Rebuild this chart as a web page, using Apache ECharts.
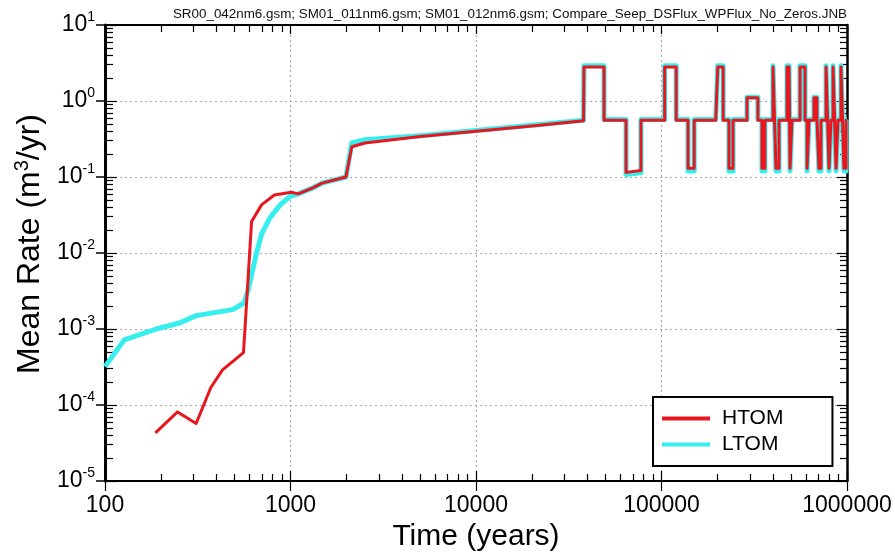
<!DOCTYPE html>
<html>
<head>
<meta charset="utf-8">
<script src="https://cdn.jsdelivr.net/npm/echarts@6/dist/echarts.min.js"></script>
<style>
  html, body { margin: 0; padding: 0; background: #ffffff; }
  #chart { width: 895px; height: 552px; }
</style>
</head>
<body>
<div id="chart"></div>
<script>
// ---- text ----
const headerText = 'SR00_042nm6.gsm; SM01_011nm6.gsm; SM01_012nm6.gsm; Compare_Seep_DSFlux_WPFlux_No_Zeros.JNB';
const xTitle = 'Time (years)';
const seriesNames = ['HTOM', 'LTOM'];

// ---- axis ticks ----
const xTicks = [100, 1000, 10000, 100000, 1000000];
const yTicks = [1e-5, 1e-4, 1e-3, 1e-2, 1e-1, 1, 10];

// ---- HTOM: mean rate (m3/yr) versus time (years) ----
const htomYears = [
  187, 246, 310, 372, 430, 558, 617, 698, 818, 1010, 1100, 1320, 1480, 1990,
  2140, 2520, 5000, 10000, 20000, 38000,
  38200, 49000, 49000, 64400, 64400, 77500, 77500,
  104000, 104000, 120000, 120000, 139000, 139000, 150000, 150000,
  196000, 201000, 215000, 215000, 231000, 231000, 243000, 243000,
  289000, 289000, 331000, 331000, 348000, 348000, 361000, 361000,
  399000, 399000, 409000, 414000, 430000, 430000,
  475000, 475000, 487000, 493000, 505000, 505000,
  558000, 558000, 594000, 594000, 609000, 609000, 624000, 624000,
  664000, 664000, 689000, 689000, 706000, 706000, 724000, 724000,
  771000, 771000, 790000, 800000, 820000, 820000,
  841000, 841000, 862000, 873000, 894000, 894000,
  928000, 928000, 951000, 963000, 988000, 988000, 1000000
];
const htomRate = [
  4.3e-5, 8.1e-5, 5.7e-5, 1.7e-4, 2.9e-4, 4.9e-4, 0.026, 0.043, 0.058, 0.063, 0.060, 0.072, 0.083, 0.10,
  0.25, 0.28, 0.34, 0.40, 0.47, 0.55,
  2.8, 2.8, 0.56, 0.56, 0.115, 0.122, 0.56,
  0.56, 2.8, 2.8, 0.56, 0.56, 0.13, 0.13, 0.56,
  0.56, 2.8, 2.8, 0.56, 0.56, 0.13, 0.13, 0.56,
  0.56, 1.1, 1.1, 0.56, 0.56, 0.13, 0.13, 0.56,
  0.56, 2.8, 2.8, 0.13, 0.13, 0.56,
  0.56, 2.8, 2.8, 0.13, 0.13, 0.56,
  0.56, 2.8, 2.8, 0.56, 0.56, 0.13, 0.13, 0.56,
  0.56, 1.1, 1.1, 0.56, 0.56, 0.13, 0.13, 0.56,
  0.56, 2.8, 2.8, 0.13, 0.13, 0.56,
  0.56, 2.8, 2.8, 0.13, 0.13, 0.56,
  0.56, 2.8, 2.8, 0.13, 0.13, 0.56, 0.56
];

// ---- LTOM: mean rate (m3/yr) versus time (years) ----
const ltomYears = [
  100, 127, 189, 252, 310, 487, 562, 590, 656, 700, 774, 880, 990, 1100, 1320, 1480, 1990,
  2140, 2520, 5000, 10000, 20000, 38000,
  38200, 49000, 49000, 64400, 64400, 77500, 77500,
  104000, 104000, 120000, 120000, 139000, 139000, 150000, 150000,
  196000, 201000, 215000, 215000, 231000, 231000, 243000, 243000,
  289000, 289000, 331000, 331000, 348000, 348000, 361000, 361000,
  399000, 399000, 409000, 414000, 430000, 430000,
  475000, 475000, 487000, 493000, 505000, 505000,
  558000, 558000, 594000, 594000, 609000, 609000, 624000, 624000,
  664000, 664000, 689000, 689000, 706000, 706000, 724000, 724000,
  771000, 771000, 790000, 800000, 820000, 820000,
  841000, 841000, 862000, 873000, 894000, 894000,
  928000, 928000, 951000, 963000, 988000, 988000, 1000000
];
const ltomRate = [
  3.2e-4, 7.2e-4, 1.0e-3, 1.2e-3, 1.5e-3, 1.8e-3, 2.2e-3, 3.2e-3, 0.010, 0.018, 0.029, 0.043, 0.055, 0.060, 0.072, 0.083, 0.10,
  0.28, 0.31, 0.35, 0.41, 0.48, 0.56,
  2.9, 2.9, 0.57, 0.57, 0.108, 0.114, 0.57,
  0.57, 2.9, 2.9, 0.57, 0.57, 0.12, 0.12, 0.57,
  0.57, 2.9, 2.9, 0.57, 0.57, 0.12, 0.12, 0.57,
  0.57, 1.12, 1.12, 0.57, 0.57, 0.12, 0.12, 0.57,
  0.57, 2.9, 2.9, 0.12, 0.12, 0.57,
  0.57, 2.9, 2.9, 0.12, 0.12, 0.57,
  0.57, 2.9, 2.9, 0.57, 0.57, 0.12, 0.12, 0.57,
  0.57, 1.12, 1.12, 0.57, 0.57, 0.12, 0.12, 0.57,
  0.57, 2.9, 2.9, 0.12, 0.12, 0.57,
  0.57, 2.9, 2.9, 0.12, 0.12, 0.57,
  0.57, 2.9, 2.9, 0.12, 0.12, 0.57, 0.57
];

// minor ticks at 2..9 times each decade
function minorTicksOf(majors) {
  const out = [];
  for (let i = 0; i < majors.length - 1; i++) {
    for (let k = 2; k <= 9; k++) out.push(+(majors[i] * k).toPrecision(6));
  }
  return out;
}
const xMinor = minorTicksOf(xTicks);
const yMinor = minorTicksOf(yTicks);

const FONT = 'Liberation Sans, Arial, sans-serif';
const BLACK = '#000000';
const RED = '#E8161E';
const CYAN = '#36EEEE';

function pairs(xs, ys) { return xs.map((x, i) => [x, ys[i]]); }

// a log axis that only draws ticks (double-sided major ticks, minor ticks, frame edges)
function tickAxis(kind, position, values, length, inside, lineWidth) {
  return {
    type: 'log', logBase: 10, position: position,
    min: kind === 'x' ? xTicks[0] : yTicks[0],
    max: kind === 'x' ? xTicks[xTicks.length - 1] : yTicks[yTicks.length - 1],
    axisLine: { show: lineWidth > 0, lineStyle: { color: BLACK, width: lineWidth || 1 } },
    axisTick: { show: true, inside: inside, length: length, customValues: values,
                lineStyle: { color: BLACK, width: 1.2 } },
    axisLabel: { show: false },
    splitLine: { show: false },
    minorTick: { show: false }
  };
}

const chart = echarts.init(document.getElementById('chart'), null, { renderer: 'canvas' });

const option = {
  animation: false,
  backgroundColor: '#ffffff',
  textStyle: { fontFamily: FONT },
  title: {
    text: headerText,
    right: 43, top: 3,
    textStyle: { fontFamily: FONT, fontSize: 13.4, fontWeight: 'normal', color: '#111111' }
  },
  grid: { left: 105, right: 48, top: 25, bottom: 71, containLabel: false, outerBoundsMode: 'none' },
  legend: {
    data: seriesNames,
    orient: 'vertical',
    left: 653, top: 397,
    padding: [11, 49, 11, 9],
    icon: 'rect',
    itemWidth: 48, itemHeight: 4, itemGap: 5,
    borderColor: BLACK, borderWidth: 2,
    backgroundColor: '#ffffff',
    textStyle: { fontFamily: FONT, fontSize: 21, lineHeight: 20, height: 20, color: BLACK, padding: [0, 0, 0, 7] }
  },
  xAxis: [
    {
      type: 'log', logBase: 10, position: 'bottom',
      min: xTicks[0], max: xTicks[xTicks.length - 1],
      name: xTitle, nameLocation: 'middle', nameGap: 30,
      nameTextStyle: { fontFamily: FONT, fontSize: 30, color: BLACK },
      axisLine: { show: true, lineStyle: { color: BLACK, width: 2 } },
      axisTick: { show: true, inside: false, length: 10, customValues: xTicks,
                  lineStyle: { color: BLACK, width: 1.2 } },
      axisLabel: { show: true, customValues: xTicks, margin: 13,
                   fontFamily: FONT, fontSize: 23, color: BLACK,
                   formatter: v => String(Math.round(v)) },
      splitLine: { show: true, lineStyle: { color: '#aaaaaa', type: [2, 3], width: 1.2 } },
      minorTick: { show: false }
    },
    tickAxis('x', 'bottom', xTicks, 10, true, 0),
    tickAxis('x', 'bottom', xMinor, 7, true, 0),
    tickAxis('x', 'top', xTicks, 9, true, 2),
    tickAxis('x', 'top', xMinor, 7, true, 0)
  ],
  yAxis: [
    {
      type: 'log', logBase: 10, position: 'left',
      min: yTicks[0], max: yTicks[yTicks.length - 1],
      name: 'Mean Rate (m{sup|3}/yr)', nameLocation: 'middle', nameGap: 56,
      nameRotate: 90,
      nameTextStyle: { fontFamily: FONT, fontSize: 32, color: BLACK, padding: [0, 0, 0, 18],
        rich: { sup: { fontFamily: FONT, fontSize: 20, verticalAlign: 'top', lineHeight: 36, color: BLACK } } },
      axisLine: { show: true, lineStyle: { color: BLACK, width: 3 } },
      axisTick: { show: true, inside: false, length: 9, customValues: yTicks,
                  lineStyle: { color: BLACK, width: 1.5 } },
      axisLabel: {
        show: true, customValues: yTicks, margin: 10,
        formatter: v => '{b|10}{s|' + Math.round(Math.log10(v)) + '}',
        rich: {
          b: { fontFamily: FONT, fontSize: 23, lineHeight: 30, color: BLACK },
          s: { fontFamily: FONT, fontSize: 14, lineHeight: 14, verticalAlign: 'top', color: BLACK }
        }
      },
      splitLine: { show: true, lineStyle: { color: '#aaaaaa', type: [2, 3], width: 1.2 } },
      minorTick: { show: false }
    },
    tickAxis('y', 'left', yTicks, 12, true, 0),
    tickAxis('y', 'left', yMinor, 8, true, 0),
    tickAxis('y', 'right', yTicks, 10, true, 2.5),
    tickAxis('y', 'right', yMinor, 7, true, 0)
  ],
  series: [
    {
      name: 'LTOM', type: 'line', xAxisIndex: 0, yAxisIndex: 0,
      data: pairs(ltomYears, ltomRate),
      symbol: 'none', smooth: false, clip: true,
      lineStyle: { color: CYAN, width: 5, join: 'round' },
      itemStyle: { color: CYAN },
      z: 2
    },
    {
      name: 'HTOM', type: 'line', xAxisIndex: 0, yAxisIndex: 0,
      data: pairs(htomYears, htomRate),
      symbol: 'none', smooth: false, clip: true,
      lineStyle: { color: RED, width: 3, join: 'round' },
      itemStyle: { color: RED },
      z: 3
    }
  ]
};

chart.setOption(option);
</script>
</body>
</html>
